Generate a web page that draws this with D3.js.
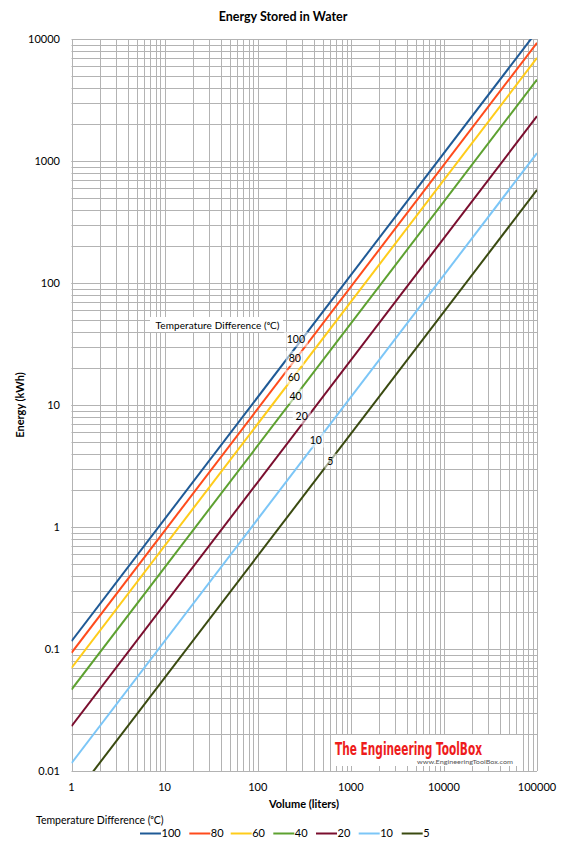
<!DOCTYPE html>
<html><head><meta charset="utf-8">
<script src="https://cdn.jsdelivr.net/npm/d3@7"></script>
<style>
body{margin:0;background:#fff;}
svg{display:block;font-family:Lato,"Open Sans",sans-serif;}
</style></head>
<body>
<svg id="c" width="567" height="850"></svg>
<script>
// ---- data ----
const series = ["100","80","60","40","20","10","5"];            // temperature difference (°C)
const colors = ["#1f5a96","#ff4b1c","#ffcc1a","#5da130","#7a0e2e","#7cc6f7","#3a4a10"];
const volumeEnds = [1, 100000];                                // liters
const energyAtStart = [0.116, 0.093, 0.070, 0.0465, 0.0233, 0.0116, 0.0058]; // kWh at 1 L
const energyAtEnd = [11600, 9300, 7000, 4650, 2330, 1160, 580];             // kWh at 100000 L
const labelVolume = [257, 250, 244, 255, 297, 420, 604];
const labelEnergy = [34.5, 24.1, 16.9, 11.8, 8.0, 5.16, 3.47];
const xTicks = [1, 10, 100, 1000, 10000, 100000];
const yTicks = [0.01, 0.1, 1, 10, 100, 1000, 10000];

// ---- layout ----
const svg = d3.select("#c");
const L = 71.5, R = 537, T = 39, B = 771;
const x = d3.scaleLog().domain([1, 100000]).range([L, R]);
const y = d3.scaleLog().domain([0.01, 10000]).range([B, T]);
const grid = "#b3b3b3";

// minor + major grid
const xg = [], yg = [];
for (let d = 1; d < 100000; d *= 10) for (let k = 1; k <= 10; k++) xg.push(d * k);
for (let d = 0.01; d < 10000; d *= 10) for (let k = 1; k <= 10; k++) yg.push(+(d * k).toPrecision(3));
svg.append("g").selectAll("line").data(xg).join("line")
  .attr("x1", d => Math.round(x(d)) + 0.5).attr("x2", d => Math.round(x(d)) + 0.5)
  .attr("y1", T).attr("y2", B).attr("stroke", grid).attr("stroke-width", 1);
svg.append("g").selectAll("line").data(yg).join("line")
  .attr("y1", d => Math.round(y(d)) + 0.5).attr("y2", d => Math.round(y(d)) + 0.5)
  .attr("x1", L).attr("x2", R).attr("stroke", grid).attr("stroke-width", 1);

// tick labels
svg.append("g").selectAll("text").data(yTicks).join("text")
  .attr("x", 60).attr("y", d => y(d)).attr("dy", "0.35em").attr("text-anchor", "end")
  .attr("font-size", 11).attr("fill", "#000").text(d => String(d));
svg.append("g").selectAll("text").data(xTicks).join("text")
  .attr("x", d => x(d)).attr("y", 787).attr("dy", "0.35em").attr("text-anchor", "middle")
  .attr("font-size", 11).attr("fill", "#000").text(d => String(d));

// clip
svg.append("clipPath").attr("id", "clip").append("rect")
  .attr("x", L).attr("y", T).attr("width", R - L).attr("height", B - T);

// watermark
const wm = svg.append("g");
wm.append("rect").attr("x", 332).attr("y", 735).attr("width", 190).attr("height", 31).attr("fill", "#fff");
wm.append("text").attr("x", 335).attr("y", 755).attr("font-family", "'DejaVu Sans Condensed','DejaVu Sans',sans-serif")
  .attr("font-weight", "bold").attr("font-size", 17).attr("fill", "#ee1c1c")
  .attr("textLength", 147).attr("lengthAdjust", "spacingAndGlyphs")
  .text("The Engineering ToolBox");
wm.append("text").attr("x", 417).attr("y", 764).attr("font-size", 6.5).attr("fill", "#555")
  .attr("textLength", 96).attr("lengthAdjust", "spacingAndGlyphs")
  .text("www.EngineeringToolBox.com");

// lines
const line = d3.line().x(d => x(d[0])).y(d => y(d[1]));
svg.append("g").attr("clip-path", "url(#clip)").selectAll("path").data(series).join("path")
  .attr("d", (s, i) => line([[volumeEnds[0], energyAtStart[i]], [volumeEnds[1], energyAtEnd[i]]]))
  .attr("fill", "none").attr("stroke", (s, i) => colors[i]).attr("stroke-width", 2);

// in-plot labels
const lg = svg.append("g");
series.forEach((s, i) => {
  const cx = x(labelVolume[i]), cy = y(labelEnergy[i]);
  const w = s.length * 6 + 6;
  lg.append("rect").attr("x", cx - w / 2).attr("y", cy - 7.5).attr("width", w).attr("height", 15)
    .attr("fill", "#fff").attr("fill-opacity", 0.55);
  lg.append("text").attr("x", cx).attr("y", cy).attr("dy", "0.35em").attr("text-anchor", "middle")
    .attr("font-size", 10.5).attr("fill", "#000").text(s);
});
lg.append("rect").attr("x", 150).attr("y", 317).attr("width", 133).attr("height", 15).attr("fill", "#fff");
lg.append("text").attr("x", 155.5).attr("y", 325.5).attr("dy", "0.35em").attr("font-size", 10)
  .attr("textLength", 124).text("Temperature Difference (ᵒC)");

// titles
svg.append("text").attr("x", 283).attr("y", 17).attr("dy", "0.35em").attr("text-anchor", "middle")
  .attr("font-weight", "bold").attr("font-size", 12.5).text("Energy Stored in Water");
svg.append("text").attr("x", 304).attr("y", 804).attr("dy", "0.35em").attr("text-anchor", "middle")
  .attr("font-weight", "bold").attr("font-size", 11).text("Volume (liters)");
svg.append("text").attr("transform", "translate(20,405) rotate(-90)").attr("dy", "0.35em")
  .attr("text-anchor", "middle").attr("font-weight", "bold").attr("font-size", 11).text("Energy (kWh)");

// legend
svg.append("text").attr("x", 36).attr("y", 820).attr("dy", "0.35em").attr("font-size", 10.5)
  .text("Temperature Difference (ᵒC)");
const legX = [140, 189.3, 230.7, 273.3, 316, 358.7, 401.7];
const leg = svg.append("g").selectAll("g").data(series).join("g")
  .attr("transform", (s, i) => `translate(${legX[i]},833.5)`);
leg.append("line").attr("x1", 0).attr("x2", 21).attr("stroke", (s, i) => colors[i]).attr("stroke-width", 2);
leg.append("text").attr("x", 21.5).attr("dy", "0.35em").attr("font-size", 11).text(s => s);
</script>
</body></html>
